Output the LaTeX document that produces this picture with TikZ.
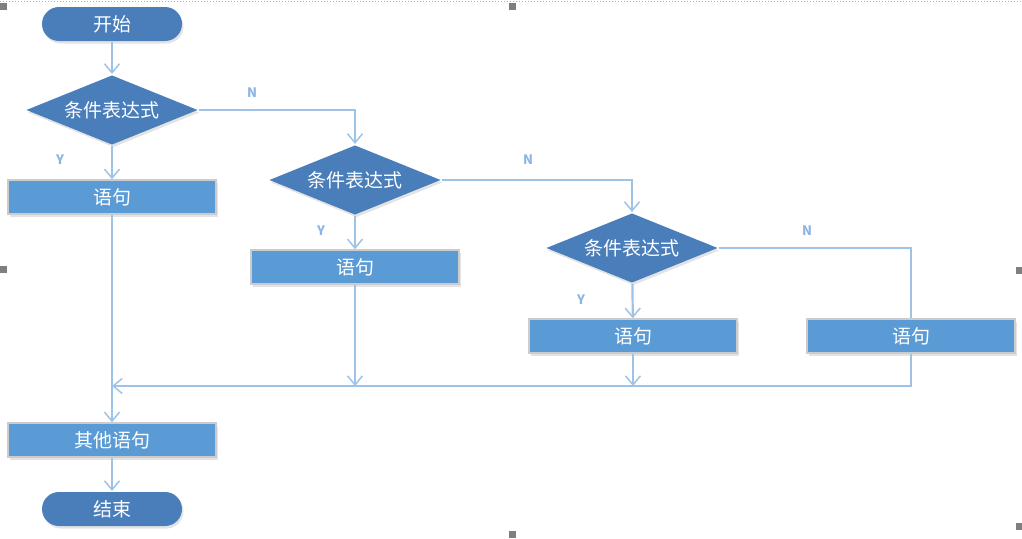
\documentclass[tikz,border=0pt]{standalone}
\usepackage{fontspec}
\setmainfont{Noto Sans CJK SC}
\usetikzlibrary{shapes.geometric,arrows.meta,shadows}
\definecolor{termblue}{HTML}{4A7EBB}
\definecolor{stmtblue}{HTML}{5B9BD5}
\definecolor{lineblue}{HTML}{9DC3E6}
\definecolor{labelblue}{HTML}{8EB4E3}
\definecolor{handlegray}{HTML}{7F7F7F}
\begin{document}
\begin{tikzpicture}[x=1pt, y=-1pt, line width=2.2pt,
  flow/.style={draw=lineblue, -{Straight Barb[length=9pt,width=15pt,line width=1.5pt]}},
  link/.style={draw=lineblue},
  soft shadow/.style={drop shadow={shadow xshift=1.5pt, shadow yshift=-2.5pt, opacity=.18, fill=black!60}},
  term node/.style={rectangle, rounded corners=17pt, fill=termblue, minimum width=140pt, minimum height=34pt, text=white, font=\fontsize{19}{19}\selectfont, soft shadow},
  cond node/.style={diamond, aspect=2.4, inner sep=0pt, fill=termblue, minimum width=172pt, minimum height=70pt, text=white, font=\fontsize{19}{19}\selectfont, soft shadow},
  stmt node/.style={rectangle, fill=stmtblue, draw=black!20, line width=1.5pt, minimum width=208pt, minimum height=34pt, text=white, font=\fontsize{19}{19}\selectfont, soft shadow},
  yn label/.style={text=labelblue, font=\fontsize{13}{13}\selectfont\bfseries},
  handle/.style={fill=handlegray, minimum size=7pt, inner sep=0pt}]
\useasboundingbox (0,0) rectangle (1022,538);
% selection frame
\draw[handlegray!60, line width=1pt, dotted] (0,1) -- (1022,1);
\node [handle](h1) at (3,6) {};
\node [handle](h2) at (512,6) {};
\node [handle](h3) at (1019,270) {};
\node [handle](h4) at (3,269) {};
\node [handle](h5) at (1019,526) {};
\node [handle](h6) at (512,534) {};
% nodes
\node [term node](start) at (112,24) {开始};
\node [cond node](c1) at (112,110) {条件表达式};
\node [stmt node](s1) at (112,197) {语句};
\node [cond node](c2) at (355,180) {条件表达式};
\node [stmt node](s2) at (355,267) {语句};
\node [cond node](c3) at (632,248) {条件表达式};
\node [stmt node](s3) at (633,336) {语句};
\node [stmt node](s4) at (911,336) {语句};
\node [stmt node](other) at (112,440) {其他语句};
\node [term node](stop) at (112,509) {结束};
\coordinate (merge) at (112,386);
% labels
\node [yn label](y1) at (60,160) {Y};
\node [yn label](n1) at (252,93) {N};
\node [yn label](y2) at (321,231) {Y};
\node [yn label](n2) at (528,160) {N};
\node [yn label](y3) at (581,300) {Y};
\node [yn label](n3) at (807,231) {N};
% connectors
\draw [flow] (start) -- (c1);
\draw [flow] (c1) -- (s1);
\draw [flow] (c1.east) -| (c2.north);
\draw [flow] (c2) -- (s2);
\draw [flow] (c2.east) -| (c3.north);
\draw [flow] (c3) -- (s3);
\draw [link] (c3.east) -| (s4.north);
\draw [flow] (s1) -- (other);
\draw [flow] (s2.south) -- (s2 |- merge);
\draw [flow] (s3.south) -- (s3 |- merge);
\draw [flow] (s4.south) |- (merge);
\draw [flow] (other) -- (stop);
\end{tikzpicture}
\end{document}
